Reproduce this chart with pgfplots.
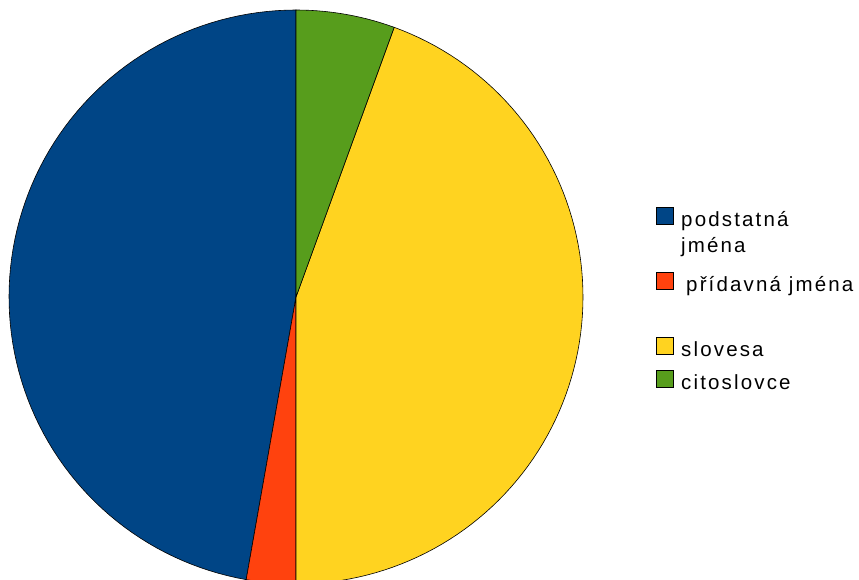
\documentclass[border=0pt]{standalone}
\usepackage{pgfplots}
\usepackage{pgfplotstable}
\pgfplotsset{compat=1.18}
\usepackage{fontspec}
\setmainfont{Liberation Sans}
\newfontfamily\legfont[LetterSpace=10.5]{Liberation Sans}
\definecolor{cBlue}{HTML}{004586}
\definecolor{cRed}{HTML}{FF420E}
\definecolor{cYellow}{HTML}{FFD320}
\definecolor{cGreen}{HTML}{579D1C}

\pgfplotstableread{
label value
podstatna 17
pridavna 1
slovesa 16
citoslovce 2
}\piedata

\begin{document}
\begin{tikzpicture}
\pgfplotstablegetelem{0}{value}\of\piedata \let\vA\pgfplotsretval
\pgfplotstablegetelem{1}{value}\of\piedata \let\vB\pgfplotsretval
\pgfplotstablegetelem{2}{value}\of\piedata \let\vC\pgfplotsretval
\pgfplotstablegetelem{3}{value}\of\piedata \let\vD\pgfplotsretval
\pgfmathsetmacro\tot{\vA+\vB+\vC+\vD}
\pgfmathsetmacro\aA{90}
\pgfmathsetmacro\aB{\aA+360*\vA/\tot}
\pgfmathsetmacro\aC{\aB+360*\vB/\tot}
\pgfmathsetmacro\aD{\aC+360*\vC/\tot}
\pgfmathsetmacro\aE{\aD+360*\vD/\tot}
\begin{axis}[
  at={(0pt,0pt)}, anchor=south west,
  width=859pt, height=580pt, scale only axis,
  xmin=0, xmax=859, ymin=0, ymax=580,
  hide axis, clip=true,
]
\addplot[fill=cBlue, draw=black, line width=0.6pt, domain=\aA:\aB, samples=90, variable=\t]
  ({296+287*cos(\t)},{283+287*sin(\t)}) -- (axis cs:296,283) -- cycle;
\addplot[fill=cRed, draw=black, line width=0.6pt, domain=\aB:\aC, samples=10, variable=\t]
  ({296+287*cos(\t)},{283+287*sin(\t)}) -- (axis cs:296,283) -- cycle;
\addplot[fill=cYellow, draw=black, line width=0.6pt, domain=\aC:\aD, samples=90, variable=\t]
  ({296+287*cos(\t)},{283+287*sin(\t)}) -- (axis cs:296,283) -- cycle;
\addplot[fill=cGreen, draw=black, line width=0.6pt, domain=\aD:\aE, samples=15, variable=\t]
  ({296+287*cos(\t)},{283+287*sin(\t)}) -- (axis cs:296,283) -- cycle;

\draw[fill=cBlue, draw=black, line width=0.5pt] (axis cs:656,356) rectangle (axis cs:673,373);
\draw[fill=cRed, draw=black, line width=0.5pt] (axis cs:656,291) rectangle (axis cs:673,308);
\draw[fill=cYellow, draw=black, line width=0.5pt] (axis cs:656,226) rectangle (axis cs:673,243);
\draw[fill=cGreen, draw=black, line width=0.5pt] (axis cs:656,193) rectangle (axis cs:673,210);
\begin{scope}[every node/.style={anchor=base west, inner sep=0pt, font=\fontsize{20.5}{24}\legfont}]
\node at (axis cs:681,353) {podstatná};
\node at (axis cs:681,327) {jména};
\node at (axis cs:686,288) {přídavná jména};
\node at (axis cs:681,223) {slovesa};
\node at (axis cs:681,190) {citoslovce};
\end{scope}
\end{axis}
\pgfresetboundingbox
\useasboundingbox (0pt,0pt) rectangle (859pt,580pt);
\end{tikzpicture}
\end{document}
